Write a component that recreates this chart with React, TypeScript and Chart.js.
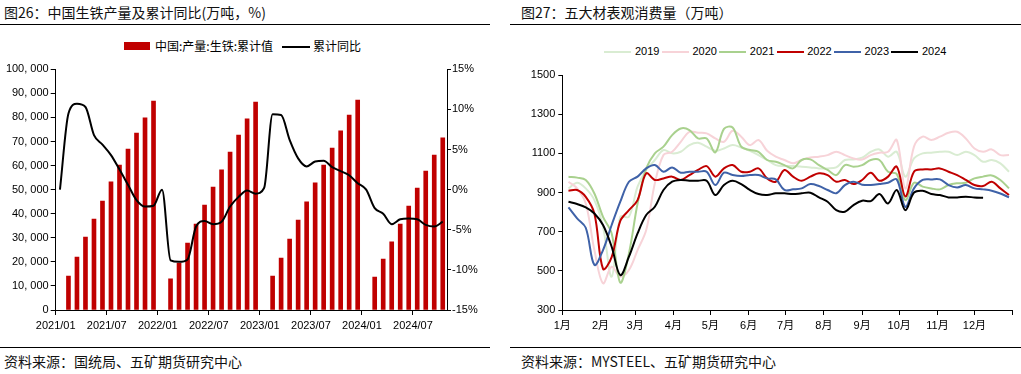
import React, { useEffect, useRef } from 'react';
import { Chart, registerables } from 'chart.js';

Chart.register(...registerables);

// ---------- Left chart data (monthly, 2021/01 .. 2024/10) ----------
const leftXTickLabels = ['2021/01', '2021/07', '2022/01', '2022/07', '2023/01', '2023/07', '2024/01', '2024/07'];
const leftTickStep = 6;
const leftMonthCount = 46;

const pigIronCum: (number | null)[] = [
  null, 14100, 22000, 30300, 37800, 45300, 53200, 60200, 66900, 73500, 79800, 86800,
  null, 12900, 19500, 27800, 35700, 43600, 51100, 58200, 65600, 72700, 79400, 86400,
  null, 14100, 21600, 29500, 37400, 44900, 52800, 60200, 67300, 74400, 81000, 87200,
  null, 13700, 21200, 28300, 35700, 43200, 50700, 57700, 64400, 71500,
];

const pigIronYoy: number[] = [
  0, 9.5, 10.7, 10.3, 6.8, 5.6, 4.3, 2.5, 0.6, -1.3, -2.1, -2.0,
  0, -8.8, -9.0, -8.7, -4.6, -3.9, -4.3, -4.0, -2.1, -0.9, -0.1, -0.5,
  0.2, 9.4, 9.3, 6.2, 3.9, 2.9, 3.5, 3.6, 2.8, 2.3, 1.8, 0.8,
  0, -2.3, -3.0, -4.3, -3.7, -3.6, -3.7, -4.4, -4.6, -4.0,
];

// ---------- Right chart data (weekly, by day of year) ----------
const monthLabels = ['1月', '2月', '3月', '4月', '5月', '6月', '7月', '8月', '9月', '10月', '11月', '12月', ''];
const monthStartDays = [0, 31, 59, 90, 120, 151, 181, 212, 243, 273, 304, 334, 365];
const firstWeekDay = 5;
const daysPerWeek = 7;

const y2019 = [
  921, 950, 921, 861, 725, 470, 776, 776, 930, 1015, 1066, 1117, 1100, 1108, 1142, 1154, 1134,
  1113, 1125, 1142, 1130, 1113, 1091, 1066, 1040, 1035, 1035, 1032, 1028, 1023, 1023, 1028, 1066, 1069,
  1078,
  1108, 1120, 1083, 1108, 981, 1074, 1100, 1103, 1108, 1108, 1091, 1108, 1091, 1057, 1066, 1049, 1006,
];
const y2020 = [
  955, 921, 844, 606, 436, 521, 470, 504, 606, 708, 947, 1091, 1108, 1159, 1210, 1205, 1202,
  1176, 1159, 1215, 1185, 1142, 1168, 1113, 1083, 1066, 1049, 1066, 1079, 1083, 1091, 1108, 1091, 1074,
  1068,
  1091, 1103, 1108, 1168, 920, 1134, 1185, 1168, 1185, 1205, 1210, 1176, 1125, 1108, 1120, 1091, 1091,
];
const y2021 = [
  981, 976, 964, 895, 776, 691, 440, 589, 844, 1023, 1100, 1134, 1193, 1227, 1219, 1176, 1176,
  1105, 1225, 1232, 1134, 1117, 1108, 1066, 1057, 1040, 1023, 1066, 1069, 1040, 1015, 989, 1040, 1032,
  1040,
  1066, 1066, 1006, 994, 861, 950, 930, 921, 916, 938, 947, 950, 972, 981, 987, 964, 921,
];
const y2022 = [
  909, 913, 878, 793, 510, 570, 755, 810, 861, 998, 964, 972, 981, 964, 989, 1015, 1035,
  981, 1023, 1040, 1006, 1006, 1023, 972, 955, 1015, 981, 960, 981, 998, 989, 955, 964, 943,
  964,
  1001, 960, 981, 1032, 880, 1006, 1018, 1018, 1023, 1006, 989, 964, 938, 933, 955, 921, 887,
];
const y2023 = [
  824, 768, 720, 530, 606, 734, 853, 955, 981, 1023, 1040, 1006, 1028, 1001, 1006, 1006, 1006,
  938, 1001, 989, 984, 989, 989, 972, 967, 913, 916, 921, 943, 933, 913, 896, 938, 955,
  940,
  938, 943, 950, 967, 827, 921, 964, 967, 967, 938, 926, 938, 921, 916, 909, 895, 875,
];
const y2024 = [
  853, 841, 824, 793, 734, 623, 478, 572, 691, 785, 827, 913, 955, 964, 960, 960, 960,
  887, 938, 960, 943, 913, 892, 887, 896, 896, 892, 896, 899, 875, 853, 810, 802, 836,
  858,
  856, 892, 844, 913, 810, 899, 909, 892, 887, 875, 875, 878, 875, 873,
];

const yearNames = ['2019', '2020', '2021', '2022', '2023', '2024'];
const yearSeries = [y2019, y2020, y2021, y2022, y2023, y2024];
const yearColors = ['#d9ecd2', '#f7d3d8', '#a9d18e', '#c00000', '#3f62a8', '#000000'];

const FONT = "'Liberation Sans', 'Noto Sans CJK SC', Arial, sans-serif";
const CJK = "'Noto Sans CJK SC', 'Liberation Sans', sans-serif";

function LeftChart() {
  const ref = useRef<HTMLCanvasElement>(null);
  useEffect(() => {
    const barData = pigIronCum
      .map((v, i) => (v === null ? null : { x: i + 0.5, y: v }))
      .filter((p) => p !== null) as { x: number; y: number }[];
    const lineData = pigIronYoy.map((v, i) => ({ x: i + 0.5, y: v }));
    const chart = new Chart(ref.current as HTMLCanvasElement, {
      type: 'bar',
      data: {
        datasets: [
          {
            type: 'line',
            label: '累计同比',
            data: lineData,
            yAxisID: 'y1',
            borderColor: '#000',
            borderWidth: 2,
            pointRadius: 0,
            cubicInterpolationMode: 'monotone',
            order: 0,
          } as any,
          {
            type: 'bar',
            label: '中国:产量:生铁:累计值',
            data: barData,
            yAxisID: 'y',
            backgroundColor: '#c00000',
            barThickness: 4,
            order: 1,
          } as any,
        ],
      },
      options: {
        animation: false,
        responsive: false,
        layout: { padding: { top: 14.3, left: 0, right: 0, bottom: 0 } },
        plugins: { legend: { display: false }, tooltip: { enabled: false } },
        scales: {
          x: {
            type: 'linear',
            min: 0,
            max: leftMonthCount,
            offset: false,
            afterBuildTicks: (s: any) => {
              s.ticks = leftXTickLabels.map((_, j) => ({ value: j * leftTickStep }));
            },
            afterFit: (s: any) => {
              s.height = 30;
            },
            ticks: {
              autoSkip: false,
              maxRotation: 0,
              padding: 4,
              color: '#000',
              font: { family: FONT, size: 11 },
              callback: (_v: any, i: number) => leftXTickLabels[i] ?? '',
            },
            grid: { drawOnChartArea: false, drawTicks: true, tickLength: 5, color: '#000', offset: false },
            border: { display: true, color: '#000', width: 1 },
          },
          y: {
            position: 'left',
            min: 0,
            max: 100000,
            afterFit: (s: any) => {
              s.width = 55.7;
            },
            ticks: {
              stepSize: 10000,
              padding: 2,
              color: '#000',
              font: { family: FONT, size: 11 },
              callback: (v: any) => {
                const n = Number(v);
                if (n === 0) return '0';
                const th = Math.floor(n / 1000);
                const rest = String(n % 1000).padStart(3, '0');
                return `${th}, ${rest}`;
              },
            },
            grid: { drawOnChartArea: false, drawTicks: true, tickLength: 5, color: '#000' },
            border: { display: true, color: '#000', width: 1 },
          },
          y1: {
            position: 'right',
            min: -15,
            max: 15,
            afterFit: (s: any) => {
              s.width = 53;
            },
            ticks: {
              stepSize: 5,
              padding: 1,
              color: '#000',
              font: { family: FONT, size: 11 },
              callback: (v: any) => `${v}%`,
            },
            grid: { drawOnChartArea: false, drawTicks: true, tickLength: 4, color: '#000' },
            border: { display: true, color: '#000', width: 1 },
          },
        },
      } as any,
    });
    return () => chart.destroy();
  }, []);
  return <canvas ref={ref} width={500} height={285} style={{ position: 'absolute', left: 0, top: 55, width: 500, height: 285 }} />;
}

function RightChart() {
  const ref = useRef<HTMLCanvasElement>(null);
  useEffect(() => {
    const datasets = yearSeries.map((series, yi) => ({
      type: 'line',
      label: yearNames[yi],
      data: series.map((v, k) => ({ x: firstWeekDay + daysPerWeek * k, y: v })),
      borderColor: yearColors[yi],
      borderWidth: 2,
      pointRadius: 0,
      tension: 0.35,
      order: yearSeries.length - yi,
    }));
    const chart = new Chart(ref.current as HTMLCanvasElement, {
      type: 'line',
      data: { datasets: datasets as any },
      options: {
        animation: false,
        responsive: false,
        layout: { padding: { top: 20, left: 0, right: 8.3, bottom: 0 } },
        plugins: { legend: { display: false }, tooltip: { enabled: false } },
        scales: {
          x: {
            type: 'linear',
            min: 0,
            max: 365,
            afterBuildTicks: (s: any) => {
              s.ticks = monthStartDays.map((d) => ({ value: d }));
            },
            afterFit: (s: any) => {
              s.height = 30;
            },
            ticks: {
              autoSkip: false,
              maxRotation: 0,
              padding: 4,
              color: '#000',
              font: { family: FONT, size: 11 },
              callback: (_v: any, i: number) => monthLabels[i] ?? '',
            },
            grid: { drawOnChartArea: false, drawTicks: true, tickLength: 5, color: '#000' },
            border: { display: true, color: '#000', width: 1 },
          },
          y: {
            min: 300,
            max: 1500,
            afterFit: (s: any) => {
              s.width = 52.3;
            },
            ticks: {
              stepSize: 200,
              padding: 3,
              color: '#000',
              font: { family: FONT, size: 11 },
              callback: (v: any) => String(v),
            },
            grid: { drawOnChartArea: false, drawTicks: true, tickLength: 4, color: '#000' },
            border: { display: true, color: '#000', width: 1 },
          },
        },
      } as any,
    });
    return () => chart.destroy();
  }, []);
  return <canvas ref={ref} width={511} height={285} style={{ position: 'absolute', left: 510, top: 55, width: 511, height: 285 }} />;
}

const abs = (left: number, top: number, extra: React.CSSProperties = {}): React.CSSProperties => ({
  position: 'absolute',
  left,
  top,
  ...extra,
});

export default function App() {
  const textStyle: React.CSSProperties = { fontFamily: CJK, fontSize: 14, color: '#111', whiteSpace: 'nowrap', lineHeight: '16px' };
  const legendText: React.CSSProperties = { fontFamily: CJK, fontSize: 12, color: '#000', whiteSpace: 'nowrap', lineHeight: '14px' };
  const rightLegendText: React.CSSProperties = { fontFamily: FONT, fontSize: 11, color: '#000', whiteSpace: 'nowrap', lineHeight: '13px' };
  return (
    <div style={{ position: 'absolute', left: 0, top: 0, width: 1021, height: 374, background: '#fff', overflow: 'hidden' }}>
      {/* Left panel */}
      <div style={abs(4, 4, textStyle)}>图26：中国生铁产量及累计同比(万吨，%)</div>
      <div style={abs(0, 23.5, { width: 490, height: 1, background: '#000' })} />
      <div style={abs(124, 42.3, { width: 26, height: 8, background: '#c00000' })} />
      <div style={abs(155, 39, legendText)}>中国:产量:生铁:累计值</div>
      <div style={abs(282, 45.5, { width: 28, height: 2, background: '#000' })} />
      <div style={abs(313, 39, legendText)}>累计同比</div>
      <LeftChart />
      <div style={abs(0, 347, { width: 490, height: 1, background: '#000' })} />
      <div style={abs(4, 353, textStyle)}>资料来源：国统局、五矿期货研究中心</div>

      {/* Right panel */}
      <div style={abs(521, 4, textStyle)}>图27：五大材表观消费量（万吨）</div>
      <div style={abs(510, 23.5, { width: 511, height: 1, background: '#000' })} />
      {yearNames.map((name, i) => (
        <React.Fragment key={name}>
          <div style={abs(604.3 + 57.4 * i, 50.7, { width: 27, height: 2, background: yearColors[i] })} />
          <div style={abs(635 + 57.4 * i, 45, rightLegendText)}>{name}</div>
        </React.Fragment>
      ))}
      <RightChart />
      <div style={abs(510, 347, { width: 511, height: 1, background: '#000' })} />
      <div style={abs(521, 353, textStyle)}>资料来源：MYSTEEL、五矿期货研究中心</div>
    </div>
  );
}
